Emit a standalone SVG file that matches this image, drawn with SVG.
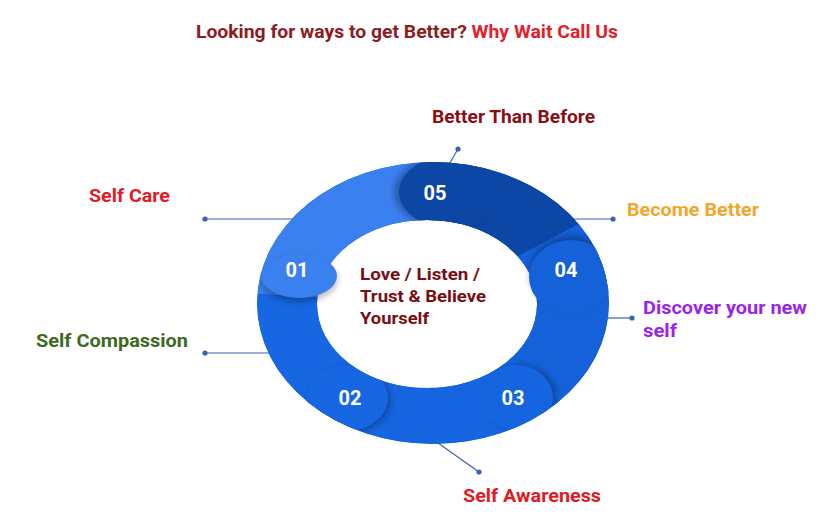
<svg xmlns="http://www.w3.org/2000/svg" width="824" height="517" viewBox="0 0 824 517">
<style>
text{font-family:Roboto,"Liberation Sans",sans-serif;font-weight:700}
.lbl{font-size:18px}
.num{font-size:20px;fill:#ffffff;text-anchor:middle}
.ctr{font-size:16.5px;fill:#7a0d12}
.con{stroke:#3a62ad;stroke-width:1.2;fill:none}
.dot{fill:#3a62ad}
.sh{fill:#000;opacity:0.28;filter:url(#blur)}
</style>
<defs>
<filter id="blur" x="-30%" y="-30%" width="160%" height="160%"><feGaussianBlur stdDeviation="3"/></filter>
<clipPath id="ringClip"><path clip-rule="evenodd" d="M257,303a176,141 0 1,0 352,0a176,141 0 1,0 -352,0Z M317,304a110,84 0 1,0 220,0a110,84 0 1,0 -220,0Z"/></clipPath>
<clipPath id="outerClip"><ellipse cx="433" cy="303" rx="176" ry="141"/></clipPath>
</defs>
<rect width="824" height="517" fill="#ffffff"/>
<text x="196" y="38" style="font-size:18px" textLength="422" lengthAdjust="spacingAndGlyphs"><tspan fill="#8e1b1f">Looking for ways to get Better? </tspan><tspan fill="#e3202b">Why Wait Call Us</tspan></text>
<g id="connectors">
<line class="con" x1="205" y1="219" x2="295" y2="219"/><circle class="dot" cx="205" cy="219" r="2.6"/>
<line class="con" x1="205" y1="353" x2="272" y2="353"/><circle class="dot" cx="205" cy="353" r="2.6"/>
<line class="con" x1="458" y1="149" x2="447" y2="168"/><circle class="dot" cx="458" cy="149" r="2.6"/>
<line class="con" x1="613" y1="219" x2="568" y2="219"/><circle class="dot" cx="613" cy="219" r="2.6"/>
<line class="con" x1="632" y1="318" x2="600" y2="318"/><circle class="dot" cx="632" cy="318" r="2.6"/>
<line class="con" x1="479" y1="472" x2="438" y2="443"/><circle class="dot" cx="479" cy="472" r="2.6"/>
</g>
<g id="ring">
<g clip-path="url(#ringClip)">
<path d="M257,303a176,141 0 1,0 352,0a176,141 0 1,0 -352,0Z" fill="#1563dd"/>
<polygon points="430,303 30.5,282.1 117,54 416,-97" fill="#3a80ee"/>
<polygon points="430,303 416,-97 586.3,-65.2 783.2,115.2" fill="#0c47a6"/>
<polygon points="430,303 783.2,115.2 829.3,327.4 757.7,532.4" fill="#1461d9"/>
<polygon points="430,303 757.7,532.4 547,685.5 286.6,676.4" fill="#1565e0"/>
<polygon points="430,303 286.6,676.4 94.5,520.8 30.5,282.1" fill="#1766e2"/>
</g>
</g>
<g id="node-01" clip-path="url(#outerClip)">
<ellipse class="sh" cx="299" cy="280" rx="38" ry="22"/>
<ellipse cx="299" cy="276" rx="38" ry="22" fill="#3a80ee"/>
<text class="num" x="297" y="277">01</text>
</g>
<g id="node-05">
<g clip-path="url(#ringClip)">
<ellipse class="sh" cx="446" cy="192" rx="52" ry="36"/>
<ellipse cx="451" cy="192" rx="52" ry="36" fill="#0c47a6"/>
</g>
<text class="num" x="435" y="200">05</text>
</g>
<g id="node-04" clip-path="url(#outerClip)">
<ellipse class="sh" cx="571" cy="273" rx="42" ry="37"/>
<ellipse cx="571" cy="277" rx="42" ry="37" fill="#1461d9"/>
<text class="num" x="566" y="277">04</text>
</g>
<g id="node-03">
<g clip-path="url(#ringClip)">
<ellipse class="sh" cx="521" cy="398" rx="36" ry="33"/>
<ellipse cx="517" cy="398" rx="36" ry="33" fill="#1565e0"/>
</g>
<text class="num" x="513" y="405">03</text>
</g>
<g id="node-02">
<g clip-path="url(#ringClip)">
<ellipse class="sh" cx="350" cy="400" rx="41" ry="33"/>
<ellipse cx="347" cy="398" rx="41" ry="33" fill="#1766e2"/>
</g>
<text class="num" x="350" y="405">02</text>
</g>
<g id="center">
<text class="ctr" x="360" y="280" textLength="120" lengthAdjust="spacingAndGlyphs">Love / Listen /</text>
<text class="ctr" x="360" y="302" textLength="126" lengthAdjust="spacingAndGlyphs">Trust &amp; Believe</text>
<text class="ctr" x="360" y="324" textLength="69" lengthAdjust="spacingAndGlyphs">Yourself</text>
</g>
<g id="label-self-care"><text class="lbl" x="89" y="202" fill="#e01b24" textLength="81" lengthAdjust="spacingAndGlyphs">Self Care</text></g>
<g id="label-better-than-before"><text class="lbl" x="432" y="123" fill="#8b0e15" textLength="163" lengthAdjust="spacingAndGlyphs">Better Than Before</text></g>
<g id="label-become-better"><text class="lbl" x="627" y="216" fill="#f4a629" textLength="132" lengthAdjust="spacingAndGlyphs">Become Better</text></g>
<g id="label-discover"><text class="lbl" x="643" y="314" fill="#9b24e8" textLength="164" lengthAdjust="spacingAndGlyphs">Discover your new</text><text class="lbl" x="643" y="337" fill="#9b24e8" textLength="34" lengthAdjust="spacingAndGlyphs">self</text></g>
<g id="label-self-compassion"><text class="lbl" x="36" y="347" fill="#3b6b22" textLength="152" lengthAdjust="spacingAndGlyphs">Self Compassion</text></g>
<g id="label-self-awareness"><text class="lbl" x="463" y="502" fill="#e01b24" textLength="138" lengthAdjust="spacingAndGlyphs">Self Awareness</text></g>
</svg>
